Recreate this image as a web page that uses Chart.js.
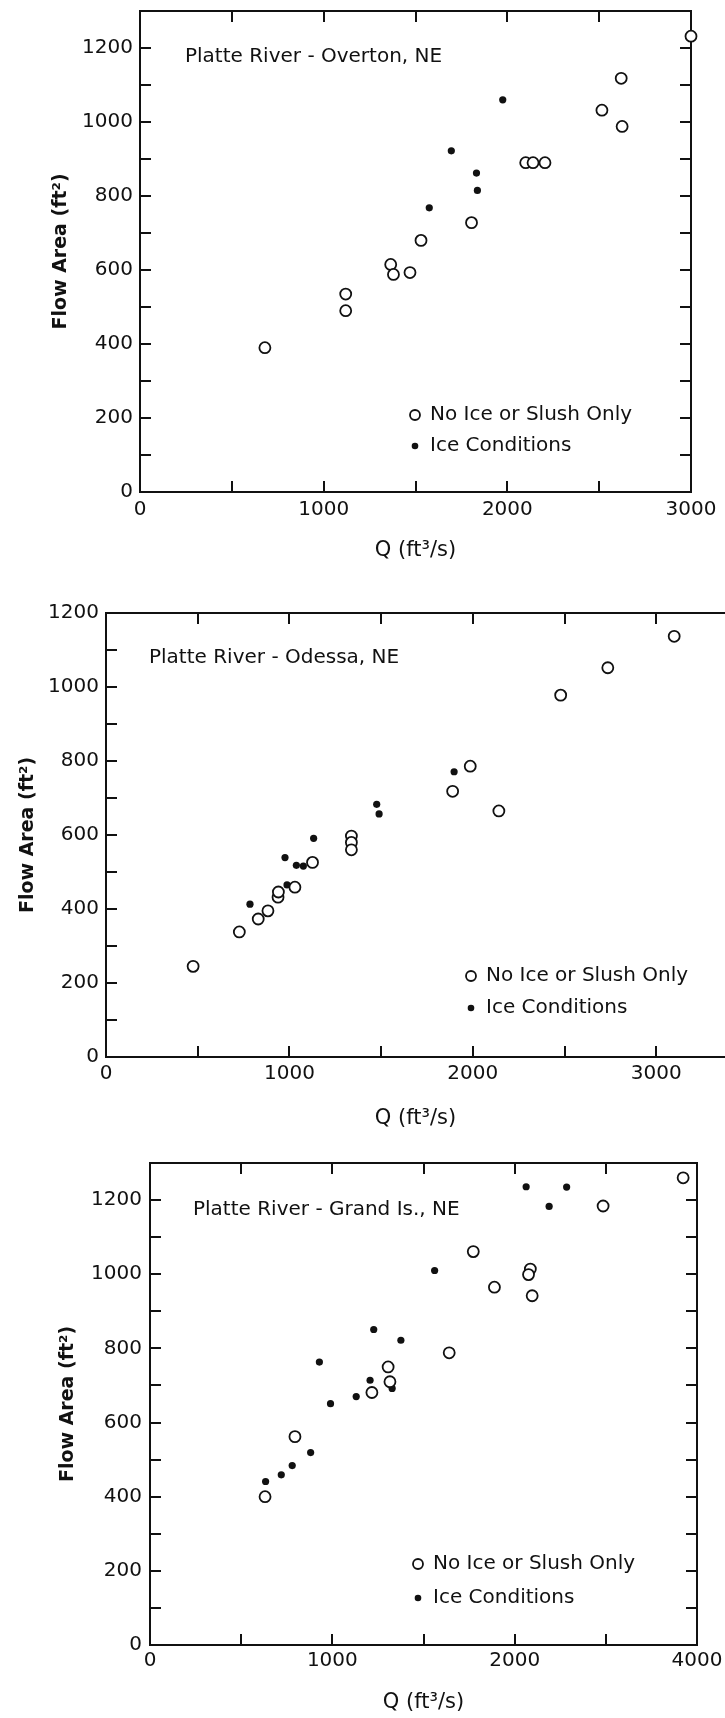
<!DOCTYPE html>
<html>
<head>
<meta charset="utf-8">
<script src="https://cdn.jsdelivr.net/npm/chart.js@4.4.1/dist/chart.umd.min.js"></script>
<style>
  html, body { margin: 0; background: #fff; width: 725px; height: 1718px; overflow: hidden; }
  body { position: relative; }
  canvas { position: absolute; left: 0; }
</style>
</head>
<body>
<canvas id="overton" width="745" height="590" style="top:-20px"></canvas>
<canvas id="odessa" width="745" height="560" style="top:570px"></canvas>
<canvas id="grand" width="745" height="588" style="top:1130px"></canvas>
<script>
const ink = '#111';

const seriesNames = ['No Ice or Slush Only', 'Ice Conditions'];
const yTicks = [0, 200, 400, 600, 800, 1000, 1200];
const yLabels = ['0', '200', '400', '600', '800', '1000', '1200'];

// Platte River - Overton
const overtonOpenQ = [680, 1120, 1120, 1365, 1380, 1470, 1530, 1805, 2100, 2140, 2205, 2515, 2620, 2625, 3000];
const overtonOpenA = [390, 535, 490, 615, 588, 593, 680, 728, 890, 890, 890, 1032, 1118, 988, 1232];
const overtonIceQ = [1575, 1695, 1832, 1837, 1975];
const overtonIceA = [768, 922, 862, 815, 1060];
const overtonXTicks = [0, 1000, 2000, 3000];
const overtonXLabels = ['0', '1000', '2000', '3000'];

// Platte River - Odessa
const odessaOpenQ = [475, 727, 830, 883, 938, 940, 1030, 1126, 1338, 1338, 1338, 1890, 1986, 2142, 2479, 2736, 3098];
const odessaOpenA = [245, 338, 373, 395, 432, 446, 459, 526, 597, 580, 560, 718, 786, 665, 978, 1052, 1137];
const odessaIceQ = [785, 976, 987, 1038, 1076, 1132, 1476, 1489, 1898];
const odessaIceA = [413, 539, 465, 518, 516, 591, 683, 657, 771];
const odessaXTicks = [0, 1000, 2000, 3000];
const odessaXLabels = ['0', '1000', '2000', '3000'];

// Platte River - Grand Island
const grandOpenQ = [631, 795, 1217, 1306, 1316, 1641, 1773, 1889, 2086, 2076, 2096, 2485, 2924];
const grandOpenA = [400, 562, 681, 750, 710, 788, 1061, 965, 1014, 999, 942, 1184, 1260];
const grandIceQ = [634, 720, 780, 881, 929, 990, 1131, 1207, 1227, 1328, 1376, 1561, 2063, 2189, 2285];
const grandIceA = [441, 459, 484, 519, 763, 651, 670, 714, 851, 692, 822, 1010, 1236, 1183, 1235];
const grandXTicks = [0, 1000, 2000, 3000];
const grandXLabels = ['0', '1000', '2000', '4000'];   // last label printed as 4000 in the original

Chart.defaults.font.family = '"DejaVu Sans", sans-serif';
Chart.defaults.color = ink;

const toPoints = (xs, ys) => xs.map((x, i) => ({ x: x, y: ys[i] }));

// tick marks every `step` up to max
function stepTicks(max, step) {
  const out = [];
  for (let v = 0; v <= max; v += step) out.push({ value: v });
  return out;
}

// panel title + legend drawn inside the plot area
const insideText = {
  id: 'insideText',
  afterDraw(chart, args, opts) {
    const ctx = chart.ctx;
    const a = chart.chartArea;
    ctx.save();
    ctx.fillStyle = ink;
    ctx.textBaseline = 'middle';
    ctx.font = '20px "DejaVu Sans"';
    ctx.fillText(opts.title, a.left + opts.titleAt[0], a.top + opts.titleAt[1]);
    chart.data.datasets.forEach((ds, i) => {
      const x = a.left + opts.legendAt[0];
      const y = a.top + opts.legendAt[1] + i * opts.legendGap;
      ctx.beginPath();
      ctx.arc(x, y, ds.legendRadius, 0, Math.PI * 2);
      ctx.fillStyle = ds.backgroundColor;
      ctx.fill();
      if (ds.borderWidth) {
        ctx.lineWidth = ds.borderWidth;
        ctx.strokeStyle = ds.borderColor;
        ctx.stroke();
      }
      ctx.fillStyle = ink;
      ctx.fillText(ds.label, x + 15, y);
    });
    ctx.restore();
  }
};

function pickLabel(values, labels) {
  return v => {
    const i = values.indexOf(v);
    return i >= 0 ? labels[i] : '';
  };
}

function makePanel(id, p) {
  const gridOpts = { drawOnChartArea: false, tickLength: -11, color: ink, tickColor: ink, lineWidth: 2, tickWidth: 2 };
  const borderOpts = { color: ink, width: 2 };
  const xSteps = s => { s.ticks = stepTicks(p.xMax, 500); };
  const ySteps = s => { s.ticks = stepTicks(p.yMax, 100); };
  const scales = {
    x: {
      type: 'linear', min: 0, max: p.xMax,
      border: borderOpts, grid: gridOpts,
      afterBuildTicks: xSteps,
      ticks: { padding: p.xTickPad, font: { size: 20 }, maxRotation: 0, autoSkip: false,
               callback: pickLabel(p.xTicks, p.xLabels) },
      title: { display: true, text: 'Q (ft³/s)', font: { size: 21 }, padding: { top: 0, bottom: p.xTitlePad } },
      afterFit: s => { s.height = p.xHeight; }
    },
    y: {
      type: 'linear', min: 0, max: p.yMax,
      border: borderOpts, grid: gridOpts,
      afterBuildTicks: ySteps,
      ticks: { padding: p.yTickPad, font: { size: 20 }, autoSkip: false,
               callback: pickLabel(yTicks, yLabels) },
      title: { display: true, text: 'Flow Area (ft²)', font: { size: 19, weight: 'bold' }, padding: { top: p.yTitlePad, bottom: 0 } },
      afterFit: s => { s.width = p.yWidth; }
    },
    x2: {
      type: 'linear', position: 'top', min: 0, max: p.xMax,
      border: borderOpts, grid: gridOpts,
      afterBuildTicks: xSteps,
      ticks: { display: false },
      afterFit: s => { s.height = 0; }
    }
  };
  if (p.rightAxis) {
    scales.y2 = {
      type: 'linear', position: 'right', min: 0, max: p.yMax,
      border: borderOpts, grid: gridOpts,
      afterBuildTicks: ySteps,
      ticks: { display: false },
      afterFit: s => { s.width = 0; }
    };
  }

  new Chart(document.getElementById(id), {
    type: 'scatter',
    data: {
      datasets: [
        {
          label: seriesNames[0],
          data: toPoints(p.openQ, p.openA),
          pointStyle: 'circle', pointRadius: 5.5, pointHoverRadius: 5.5,
          backgroundColor: '#fff', borderColor: ink, borderWidth: 1.8,
          legendRadius: 5, clip: false
        },
        {
          label: seriesNames[1],
          data: toPoints(p.iceQ, p.iceA),
          pointStyle: 'circle', pointRadius: 3.6, pointHoverRadius: 3.6,
          backgroundColor: ink, borderColor: ink, borderWidth: 0,
          legendRadius: 3.3, clip: false
        }
      ]
    },
    options: {
      responsive: false,
      animation: false,
      events: [],
      layout: { padding: p.padding },
      scales: scales,
      plugins: {
        legend: { display: false },
        tooltip: { enabled: false },
        insideText: { title: p.title, titleAt: p.titleAt, legendAt: p.legendAt, legendGap: p.legendGap }
      }
    },
    plugins: [insideText]
  });
}

makePanel('overton', {
  title: 'Platte River - Overton, NE',
  openQ: overtonOpenQ, openA: overtonOpenA, iceQ: overtonIceQ, iceA: overtonIceA,
  xTicks: overtonXTicks, xLabels: overtonXLabels,
  xMax: 3000, yMax: 1300, rightAxis: true,
  padding: { top: 31, right: 54, left: 0, bottom: 0 },
  yWidth: 140, xHeight: 78,
  xTickPad: 17, yTickPad: 18, xTitlePad: 7, yTitlePad: 50,
  titleAt: [45, 46], legendAt: [275, 404], legendGap: 31
});

makePanel('odessa', {
  title: 'Platte River - Odessa, NE',
  openQ: odessaOpenQ, openA: odessaOpenA, iceQ: odessaIceQ, iceA: odessaIceA,
  xTicks: odessaXTicks, xLabels: odessaXLabels,
  xMax: 3375, yMax: 1200, rightAxis: false,
  padding: { top: 43, right: 20, left: 0, bottom: 0 },
  yWidth: 106, xHeight: 73,
  xTickPad: 16, yTickPad: 18, xTitlePad: -1, yTitlePad: 17,
  titleAt: [43, 45], legendAt: [365, 363], legendGap: 32
});

makePanel('grand', {
  title: 'Platte River - Grand Is., NE',
  openQ: grandOpenQ, openA: grandOpenA, iceQ: grandIceQ, iceA: grandIceA,
  xTicks: grandXTicks, xLabels: grandXLabels,
  xMax: 3000, yMax: 1300, rightAxis: true,
  padding: { top: 33, right: 48, left: 0, bottom: 0 },
  yWidth: 150, xHeight: 73,
  xTickPad: 15, yTickPad: 19, xTitlePad: 3, yTitlePad: 57,
  titleAt: [43, 47], legendAt: [268, 401], legendGap: 34
});
</script>
</body>
</html>
